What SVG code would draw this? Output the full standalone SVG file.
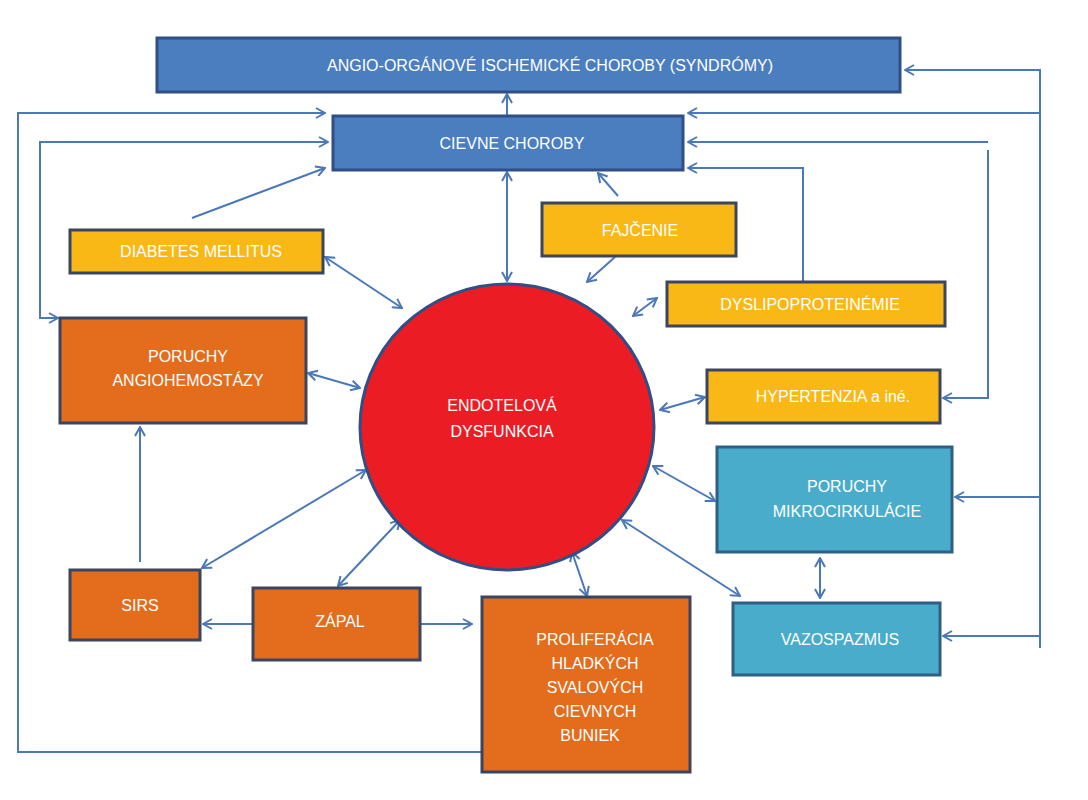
<svg xmlns="http://www.w3.org/2000/svg" width="1088" height="800" viewBox="0 0 1088 800">
<defs>
<marker id="a" viewBox="0 0 12 12" refX="11" refY="6" markerWidth="12" markerHeight="12" markerUnits="userSpaceOnUse" orient="auto-start-reverse"><path d="M2,1 L11,6 L2,11" fill="none" stroke="#4a78b8" stroke-width="2"/></marker>
</defs>
<style>
.c line,.c path{stroke:#4a78b8;stroke-width:2;fill:none}
.b{fill:#4a7ebf;stroke:#2f4f86;stroke-width:3}
.y{fill:#f9b816;stroke:#3a4560;stroke-width:3}
.o{fill:#e46c1d;stroke:#3a4560;stroke-width:3}
.t{fill:#4aaccb;stroke:#2f5f86;stroke-width:3}
text{font-family:"Liberation Sans",Arial,sans-serif;font-size:16px;fill:#fff;text-anchor:middle}
</style>
<rect width="1088" height="800" fill="#fff"/>
<g class="c">
<line x1="507" y1="116" x2="507" y2="94" marker-end="url(#a)"/>
<path d="M482,752 L18,752 L18,113 L325,113" marker-end="url(#a)"/>
<path d="M328,142 L40,142 L40,318 L58,318" marker-start="url(#a)" marker-end="url(#a)"/>
<path d="M1040,648 L1040,70 L905,70" marker-end="url(#a)"/>
<line x1="1040" y1="113" x2="688" y2="113" marker-end="url(#a)"/>
<line x1="1040" y1="497" x2="955" y2="497" marker-end="url(#a)"/>
<line x1="1040" y1="636" x2="943" y2="636" marker-end="url(#a)"/>
<line x1="988" y1="142" x2="688" y2="142" marker-end="url(#a)"/>
<path d="M988,150 L988,398 L943,398" marker-end="url(#a)"/>
<path d="M803,282 L803,168 L688,168" marker-end="url(#a)"/>
<line x1="192" y1="218" x2="325" y2="168" marker-end="url(#a)"/>
<line x1="618" y1="196" x2="598" y2="173" marker-end="url(#a)"/>
<line x1="507" y1="172" x2="507" y2="281" marker-start="url(#a)" marker-end="url(#a)"/>
<line x1="615" y1="257" x2="587" y2="282" marker-end="url(#a)"/>
<line x1="633" y1="316" x2="657" y2="298" marker-start="url(#a)" marker-end="url(#a)"/>
<line x1="325" y1="257" x2="402" y2="308" marker-start="url(#a)" marker-end="url(#a)"/>
<line x1="308" y1="373" x2="360" y2="388" marker-start="url(#a)" marker-end="url(#a)"/>
<line x1="660" y1="410" x2="705" y2="397" marker-start="url(#a)" marker-end="url(#a)"/>
<line x1="653" y1="466" x2="715" y2="501" marker-start="url(#a)" marker-end="url(#a)"/>
<line x1="820" y1="558" x2="820" y2="598" marker-start="url(#a)" marker-end="url(#a)"/>
<line x1="622" y1="520" x2="740" y2="596" marker-start="url(#a)" marker-end="url(#a)"/>
<line x1="572" y1="552" x2="587" y2="596" marker-start="url(#a)" marker-end="url(#a)"/>
<line x1="400" y1="520" x2="338" y2="586" marker-start="url(#a)" marker-end="url(#a)"/>
<line x1="366" y1="470" x2="202" y2="568" marker-start="url(#a)" marker-end="url(#a)"/>
<line x1="140" y1="562" x2="140" y2="427" marker-end="url(#a)"/>
<line x1="253" y1="624" x2="203" y2="624" marker-end="url(#a)"/>
<line x1="420" y1="624" x2="472" y2="624" marker-end="url(#a)"/>
</g>
<g id="angio"><rect class="b" x="157" y="38" width="743" height="54"/><text x="550" y="71">ANGIO-ORGÁNOVÉ  ISCHEMICKÉ  CHOROBY (SYNDRÓMY)</text></g>
<g id="cievne"><rect class="b" x="333" y="116" width="350" height="54"/><text x="512" y="149">CIEVNE CHOROBY</text></g>
<g id="diabetes"><rect class="y" x="70" y="230" width="253" height="43"/><text x="201" y="257">DIABETES MELLITUS</text></g>
<g id="fajcenie"><rect class="y" x="542" y="203" width="194" height="53"/><text x="640" y="236">FAJČENIE</text></g>
<g id="dyslipo"><rect class="y" x="667" y="282" width="278" height="44"/><text x="810" y="310">DYSLIPOPROTEINÉMIE</text></g>
<g id="angiohem"><rect class="o" x="60" y="318" width="246" height="105"/><text x="188" y="362">PORUCHY</text><text x="188" y="386">ANGIOHEMOSTÁZY</text></g>
<g id="endo"><ellipse cx="507" cy="427" rx="147" ry="143" fill="#ec1c24" stroke="#2f4f86" stroke-width="3"/><text x="502" y="411">ENDOTELOVÁ</text><text x="502" y="437">DYSFUNKCIA</text></g>
<g id="hyper"><rect class="y" x="707" y="370" width="233" height="53"/><text x="833" y="402">HYPERTENZIA a iné.</text></g>
<g id="mikro"><rect class="t" x="717" y="447" width="235" height="105"/><text x="847" y="492">PORUCHY</text><text x="847" y="517">MIKROCIRKULÁCIE</text></g>
<g id="sirs"><rect class="o" x="70" y="570" width="130" height="70"/><text x="140" y="611">SIRS</text></g>
<g id="zapal"><rect class="o" x="253" y="588" width="167" height="72"/><text x="340" y="627">ZÁPAL</text></g>
<g id="prolif"><rect class="o" x="482" y="597" width="208" height="175"/><text x="595" y="645">PROLIFERÁCIA</text><text x="595" y="669">HLADKÝCH</text><text x="595" y="693">SVALOVÝCH</text><text x="595" y="717">CIEVNYCH</text><text x="590" y="741">BUNIEK</text></g>
<g id="vazo"><rect class="t" x="733" y="603" width="207" height="72"/><text x="840" y="645">VAZOSPAZMUS</text></g>
</svg>
